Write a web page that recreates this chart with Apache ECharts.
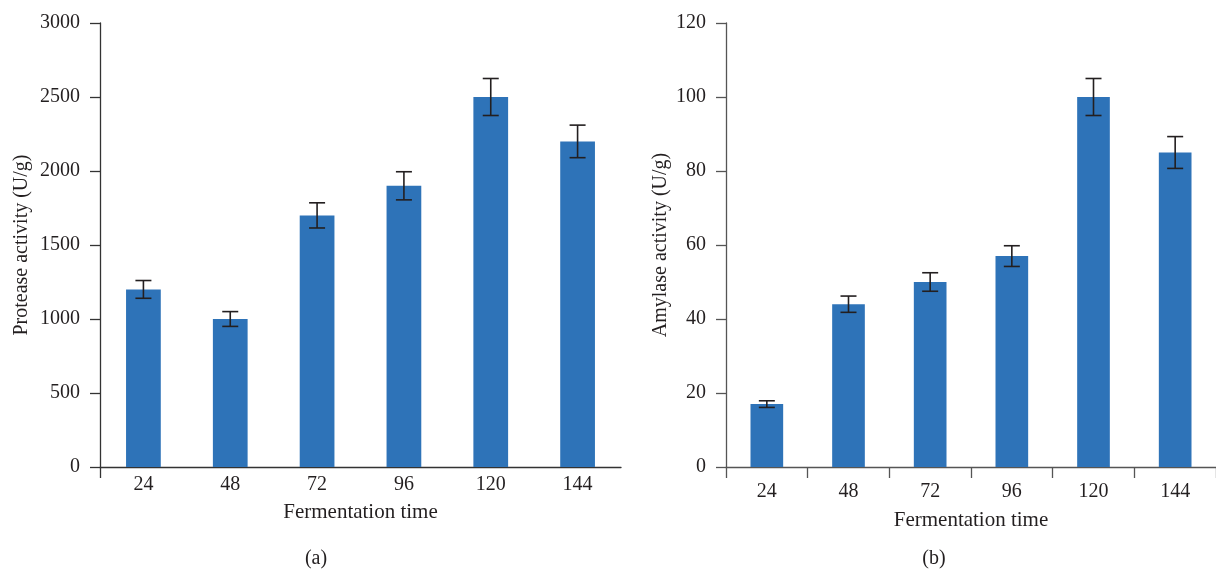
<!DOCTYPE html>
<html>
<head>
<meta charset="utf-8">
<script src="https://cdn.jsdelivr.net/npm/echarts@6/dist/echarts.min.js"></script>
<style>
  html, body { margin: 0; padding: 0; background: #fff; }
  #chart { width: 1216px; height: 569px; }
</style>
</head>
<body>
<div id="chart"></div>
<script>
// fermentation time (h)
const times = ['24', '48', '72', '96', '120', '144']

// (a) protease activity, U/g, with +/- error
const protease = [1200, 1000, 1700, 1900, 2500, 2200]
const proteaseErr = [60, 50, 85, 95, 125, 110]

// (b) amylase activity, U/g, with +/- error
const amylase = [17, 44, 50, 57, 100, 85]
const amylaseErr = [0.9, 2.2, 2.5, 2.8, 5, 4.3]

const FONT = '"Liberation Serif", "DejaVu Serif", serif'
const TEXT = '#231f20'
const BAR = '#2e73b8'

function errData(vals, errs) {
  return vals.map((v, i) => [i, v - errs[i], v + errs[i]])
}

function renderErr(params, api) {
  const lo = api.coord([api.value(0), api.value(1)])
  const hi = api.coord([api.value(0), api.value(2)])
  const cap = 8
  const style = { stroke: '#231f20', lineWidth: 1.6 }
  return {
    type: 'group',
    children: [
      { type: 'line', shape: { x1: hi[0], y1: hi[1], x2: lo[0], y2: lo[1] }, style },
      { type: 'line', shape: { x1: hi[0] - cap, y1: hi[1], x2: hi[0] + cap, y2: hi[1] }, style },
      { type: 'line', shape: { x1: lo[0] - cap, y1: lo[1], x2: lo[0] + cap, y2: lo[1] }, style },
    ],
  }
}

function xAxis(idx, axisColor, showTicks, labelMargin, nameGap) {
  return {
    type: 'category',
    gridIndex: idx,
    data: times,
    axisLine: { lineStyle: { color: axisColor, width: 1.3 } },
    axisTick: { show: showTicks, length: 11, lineStyle: { color: axisColor, width: 1.3 } },
    axisLabel: { color: TEXT, fontFamily: FONT, fontSize: 20, margin: labelMargin },
    name: 'Fermentation time',
    nameLocation: 'middle',
    nameGap,
    nameTextStyle: { color: TEXT, fontFamily: FONT, fontSize: 21 },
  }
}

function yAxis(idx, axisColor, max, interval, name, nameGap) {
  return {
    type: 'value',
    gridIndex: idx,
    min: 0,
    max,
    interval,
    axisLine: { show: true, lineStyle: { color: axisColor, width: 1.3 } },
    axisTick: { show: true, length: 10, lineStyle: { color: axisColor, width: 1.3 } },
    splitLine: { show: false },
    axisLabel: { color: TEXT, fontFamily: FONT, fontSize: 20, margin: 20, formatter: (v) => String(v) },
    name,
    nameLocation: 'middle',
    nameRotate: 90,
    nameGap,
    nameTextStyle: { color: TEXT, fontFamily: FONT, fontSize: 20 },
  }
}

const chart = echarts.init(document.getElementById('chart'))
chart.setOption({
  backgroundColor: '#fff',
  animation: false,
  grid: [
    { left: 100, top: 23, width: 521, height: 444 },
    { left: 726, top: 23, width: 494, height: 444 },
  ],
  xAxis: [
    xAxis(0, '#333', false, 8, 35),
    xAxis(1, '#555', true, 15, 43),
    // helper axis: only the single tick under the y axis of panel (a)
    {
      type: 'value', gridIndex: 0, min: 0, max: 1, position: 'bottom',
      axisLine: { show: false },
      axisLabel: { show: false },
      splitLine: { show: false },
      axisTick: { show: true, length: 11, customValues: [0], lineStyle: { color: '#333', width: 1.3 } },
    },
  ],
  yAxis: [
    yAxis(0, '#333', 3000, 500, 'Protease activity (U/g)', 68),
    yAxis(1, '#555', 120, 20, 'Amylase activity (U/g)', 55),
  ],
  series: [
    {
      type: 'bar', xAxisIndex: 0, yAxisIndex: 0, data: protease,
      barWidth: '40%', itemStyle: { color: BAR },
    },
    {
      type: 'custom', xAxisIndex: 0, yAxisIndex: 0, z: 5,
      data: errData(protease, proteaseErr), renderItem: renderErr,
    },
    {
      type: 'bar', xAxisIndex: 1, yAxisIndex: 1, data: amylase,
      barWidth: '40%', itemStyle: { color: BAR },
    },
    {
      type: 'custom', xAxisIndex: 1, yAxisIndex: 1, z: 5,
      data: errData(amylase, amylaseErr), renderItem: renderErr,
    },
  ],
  graphic: [
    { type: 'text', x: 316, y: 559, style: { text: '(a)', fill: TEXT, font: '20px ' + FONT, textAlign: 'center', textVerticalAlign: 'middle' } },
    { type: 'text', x: 934, y: 559, style: { text: '(b)', fill: TEXT, font: '20px ' + FONT, textAlign: 'center', textVerticalAlign: 'middle' } },
  ],
})
window.addEventListener('resize', () => chart.resize())
</script>
</body>
</html>
